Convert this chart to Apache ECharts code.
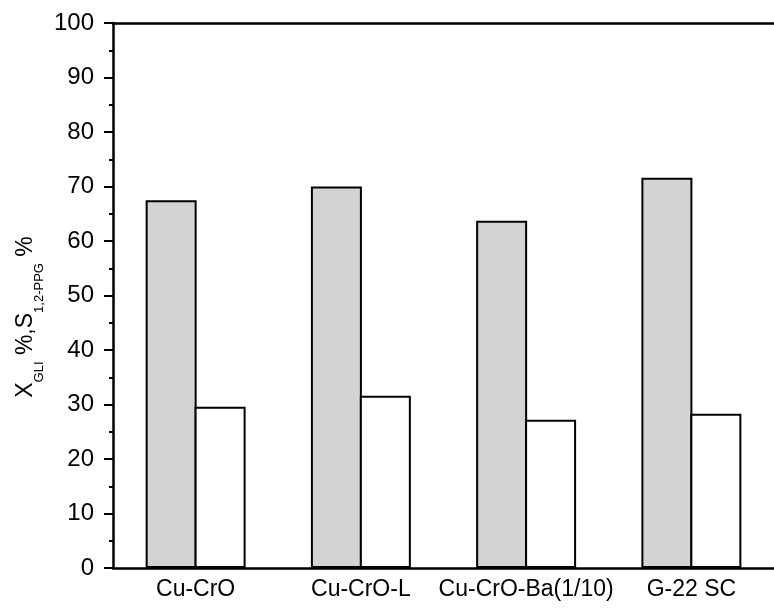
<!DOCTYPE html>
<html>
<head>
<meta charset="utf-8">
<title>Glycerol conversion and 1,2-PG selectivity</title>
<script src="https://cdn.jsdelivr.net/npm/echarts@6/dist/echarts.min.js"></script>
<style>
  html, body { margin: 0; padding: 0; background: #fff; }
  #chart { width: 774px; height: 608px; }
</style>
</head>
<body>
<div id="chart"></div>
<script>
// Catalysts on the category axis
const categories = ['Cu-CrO', 'Cu-CrO-L', 'Cu-CrO-Ba(1/10)', 'G-22 SC'];
// Glycerol conversion, X_GLI (%)
const conversion = [67.5, 70.0, 63.7, 71.6];
// Selectivity to 1,2-propylene glycol, S_1,2-PPG (%)
const selectivity = [29.6, 31.6, 27.2, 28.3];
// Value axis ticks
const yMin = 0, yMax = 100, yStep = 10;

const FONT = "'Liberation Sans', Arial, Helvetica, sans-serif";
const AXIS = { color: '#000', width: 2.5 };

const chart = echarts.init(document.getElementById('chart'), null, { renderer: 'canvas' });

chart.setOption({
  backgroundColor: '#fff',
  animation: false,
  // the plot runs past the right edge of the canvas
  grid: { left: 113, top: 23, width: 669, height: 545 },
  xAxis: [
    {
      type: 'category',
      data: categories,
      position: 'bottom',
      axisLine: { show: true, lineStyle: AXIS },
      axisTick: { show: false },
      axisLabel: { color: '#000', fontFamily: FONT, fontSize: 23, margin: 10, interval: 0 },
      splitLine: { show: false }
    },
    {
      // frame line along the top edge
      type: 'category',
      data: categories,
      position: 'top',
      axisLine: { show: true, lineStyle: AXIS },
      axisTick: { show: false },
      axisLabel: { show: false },
      splitLine: { show: false }
    }
  ],
  yAxis: {
    type: 'value',
    min: yMin,
    max: yMax,
    interval: yStep,
    axisLine: { show: true, lineStyle: AXIS },
    axisTick: { show: true, inside: false, length: 9, lineStyle: { color: '#000', width: 2 } },
    minorTick: { show: true, splitNumber: 2, length: 4, lineStyle: { color: '#000', width: 2 } },
    axisLabel: { color: '#000', fontFamily: FONT, fontSize: 24, margin: 19 },
    splitLine: { show: false },
    minorSplitLine: { show: false }
  },
  graphic: [
    {
      // rotated y-axis title with subscripts
      type: 'text',
      x: 26,
      y: 317,
      rotation: Math.PI / 2,
      style: {
        text: '{b|X}{s|GLI}{b| %,S}{s|1,2-PPG}{b| %}',
        align: 'center',
        verticalAlign: 'middle',
        fill: '#000',
        rich: {
          b: { fontFamily: FONT, fontSize: 23, lineHeight: 23, verticalAlign: 'top', fill: '#000' },
          s: { fontFamily: FONT, fontSize: 13, lineHeight: 13, verticalAlign: 'top', padding: [18, 0, 0, 0], fill: '#000' }
        }
      }
    }
  ],
  series: [
    {
      name: 'X_GLI',
      type: 'bar',
      data: conversion,
      barWidth: 51,
      // borders are drawn inside each bar, so overlap neighbours by one border width
      barGap: '-4%',
      itemStyle: { color: '#d3d3d3', borderColor: '#000', borderWidth: 2 }
    },
    {
      name: 'S_1,2-PPG',
      type: 'bar',
      data: selectivity,
      barWidth: 51,
      barGap: '-4%',
      itemStyle: { color: '#fff', borderColor: '#000', borderWidth: 2 }
    }
  ]
});
</script>
</body>
</html>
